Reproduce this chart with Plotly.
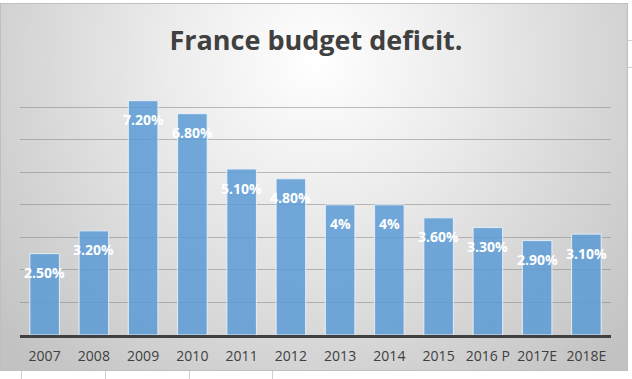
import base64
import plotly.graph_objects as go

categories = ["2007", "2008", "2009", "2010", "2011", "2012", "2013", "2014", "2015", "2016 P", "2017E", "2018E"]
values = [2.5, 3.2, 7.2, 6.8, 5.1, 4.8, 4.0, 4.0, 3.6, 3.3, 2.9, 3.1]
labels = ["2.50%", "3.20%", "7.20%", "6.80%", "5.10%", "4.80%", "4%", "4%", "3.60%", "3.30%", "2.90%", "3.10%"]
title_text = "France budget deficit."

W, H = 632, 379
positions = list(range(len(categories)))

svg = f'''<svg xmlns="http://www.w3.org/2000/svg" width="{W}" height="{H}" viewBox="0 0 {W} {H}">
<defs><radialGradient id="g" cx="316" cy="60" r="420" gradientUnits="userSpaceOnUse">
<stop offset="0" stop-color="#ffffff"/>
<stop offset="0.35" stop-color="#ececec"/>
<stop offset="1" stop-color="#c2c2c2"/>
</radialGradient></defs>
<rect x="0" y="0" width="{W}" height="{H}" fill="#ffffff"/>
<rect x="0.5" y="3.5" width="627" height="367" fill="url(#g)" stroke="#bfbfbf" stroke-width="1"/>
<g stroke="#d0d0d0" stroke-width="1">
<line x1="21.5" y1="371" x2="21.5" y2="379"/><line x1="105.5" y1="371" x2="105.5" y2="379"/>
<line x1="189.5" y1="371" x2="189.5" y2="379"/><line x1="272.5" y1="371" x2="272.5" y2="379"/>
<line x1="628" y1="40.5" x2="632" y2="40.5"/><line x1="628" y1="67.5" x2="632" y2="67.5"/>
</g>
</svg>'''
uri = "data:image/svg+xml;base64," + base64.b64encode(svg.encode()).decode()

FONT = "Open Sans, Lato, sans-serif"

fig = go.Figure()
fig.add_trace(go.Bar(
    x=positions, y=values,
    width=[0.6] * len(values),
    marker=dict(color="rgba(91,155,213,0.85)", line=dict(color="rgba(235,242,250,0.9)", width=1)),
    hoverinfo="skip",
))

for p, v, t in zip(positions, values, labels):
    fig.add_annotation(x=p, y=v, xref="x", yref="y", text=f"<b>{t}</b>", showarrow=False, yshift=-19,
                       font=dict(family=FONT, size=14, color="white"))

fig.update_layout(
    width=W, height=H,
    margin=dict(l=20, r=21, t=74, b=44),
    paper_bgcolor="white",
    plot_bgcolor="rgba(0,0,0,0)",
    showlegend=False,
    title=dict(text=f"<b>{title_text}</b>", x=0.5, xanchor="center", y=1 - 41 / H, yanchor="middle",
               font=dict(family=FONT, size=27, color="#404040")),
    images=[dict(source=uri, xref="paper", yref="paper", x=-20 / 591, y=1 + 74 / 261,
                 sizex=W / 591, sizey=H / 261, xanchor="left", yanchor="top",
                 sizing="stretch", layer="below")],
    xaxis=dict(range=[-0.5, len(categories) - 0.5], tickmode="array", tickvals=positions, ticktext=categories,
               showline=True, linecolor="#404040", linewidth=3, ticks="", showgrid=False, zeroline=False,
               ticklabelstandoff=6,
               tickfont=dict(family=FONT, size=14, color="#404040")),
    yaxis=dict(range=[0, 8.02], tickmode="array", tickvals=[1, 2, 3, 4, 5, 6, 7, 8], showticklabels=False,
               showgrid=True, gridcolor="rgba(128,128,128,0.5)", gridwidth=1, zeroline=False, showline=False),
)

fig.write_html("out.html", config={"displayModeBar": False},
               post_script="document.body.style.margin='0';")
